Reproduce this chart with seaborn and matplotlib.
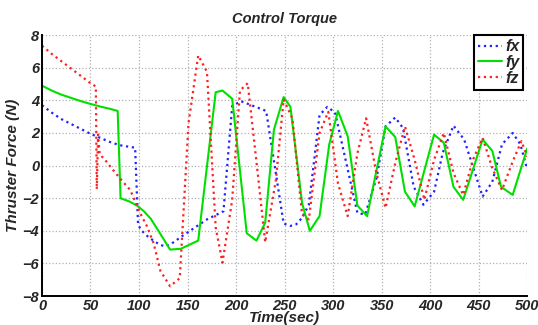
import matplotlib
matplotlib.use("Agg")
import matplotlib.pyplot as plt
import seaborn as sns

# ------------------------------
# data
# ------------------------------
fx_t = [0, 10, 20, 30, 40, 50, 60, 70, 80, 90, 96, 99, 102, 110, 120, 126, 132, 145, 160, 170,
        187, 196, 205, 218, 231, 249, 256, 262, 268, 275, 286, 294, 302, 325, 333, 345, 354, 364,
        372, 383, 393, 404, 413, 424, 435, 454, 464, 474, 485, 493, 500]
fx = [3.7, 3.25, 2.85, 2.55, 2.25, 1.95, 1.7, 1.45, 1.25, 1.15, 1.1, -3.6, -3.95, -4.4, -4.8, -4.95,
      -4.85, -4.3, -3.7, -3.3, -2.8, 3.65, 3.95, 3.65, 3.35, -3.55, -3.7, -3.6, -3.2, -2.4, 3.1, 3.6,
      3.25, -2.9, -3.0, -0.7, 2.4, 2.95, 2.3, -1.3, -2.4, -1.6, 0.8, 2.45, 1.6, -1.9, -1.0, 1.3, 2.0,
      1.3, -0.25]

fy_t = [0, 10, 20, 30, 40, 50, 60, 70, 78, 81, 90, 98, 105, 112, 120, 132, 143, 161, 179, 186,
        196, 211, 221, 230, 239, 249, 256, 268, 276, 286, 296, 305, 315, 325, 335, 354, 364, 374,
        384, 404, 414, 424, 434, 454, 464, 473, 485, 500]
fy = [4.9, 4.6, 4.35, 4.15, 3.95, 3.78, 3.62, 3.48, 3.35, -2.0, -2.2, -2.45, -2.8, -3.25, -4.0,
      -5.15, -5.1, -4.6, 4.5, 4.6, 4.1, -4.15, -4.6, -3.5, 2.2, 4.2, 3.6, -2.3, -4.0, -3.1, 1.3,
      3.35, 1.8, -2.45, -3.1, 2.4, 1.75, -1.6, -2.5, 1.9, 1.4, -1.3, -2.1, 1.6, 0.9, -1.3, -1.8, 1.05]

fz_t = [0, 10, 20, 30, 40, 50, 55.5, 56.5, 57.8, 59.5, 65, 75, 85, 91, 101, 108, 115, 122, 132,
        142, 151, 161, 170, 179, 186, 196, 204, 212, 222, 230, 241, 249, 258, 268, 275, 286, 295,
        305, 315, 325, 334, 344, 354, 364, 374, 384, 394, 404, 414, 424, 434, 444, 454, 464, 474,
        485, 494, 500]
fz = [7.35, 6.85, 6.4, 5.95, 5.5, 5.05, 4.85, -1.45, 1.9, 0.7, 0.35, -0.4, -1.1, -1.5, -2.9, -3.7,
      -4.75, -6.45, -7.4, -6.9, 2.6, 6.75, 5.75, -3.8, -5.95, -2.1, 4.6, 5.05, -0.3, -4.7, -0.9,
      4.05, 2.9, -3.0, -3.3, 2.0, 3.3, -1.1, -3.1, 0.75, 2.9, -0.3, -2.6, 0.15, 2.4, 0.35, -2.1,
      0.35, 2.0, -0.45, -1.8, 0.35, 1.7, -0.15, -1.5, 0.25, 1.5, 0.55]

x_ticks = [0, 50, 100, 150, 200, 250, 300, 350, 400, 450, 500]
y_ticks = [-8, -6, -4, -2, 0, 2, 4, 6, 8]

# ------------------------------
# style
# ------------------------------
sns.set_style("white")
plt.rcParams["font.family"] = ["Liberation Sans", "DejaVu Sans"]

fig = plt.figure(figsize=(5.38, 3.25), dpi=100)
ax = fig.add_axes([0.078, 0.089, 0.902, 0.803])

sns.lineplot(x=fx_t, y=fx, ax=ax, color="#2222ff", linestyle=":", linewidth=1.6, label="fx",
             estimator=None, sort=False)
sns.lineplot(x=fy_t, y=fy, ax=ax, color="#00e000", linestyle="-", linewidth=1.5, label="fy",
             estimator=None, sort=False)
sns.lineplot(x=fz_t, y=fz, ax=ax, color="#ff2020", linestyle=":", linewidth=1.6, label="fz",
             estimator=None, sort=False)

ax.set_xlim(0, 500)
ax.set_ylim(-8, 8)
ax.set_xticks(x_ticks)
ax.set_yticks(y_ticks)
ax.grid(True, color="#b0b0b0", linestyle=":", linewidth=0.9)
ax.tick_params(direction="in", length=4, width=1.2, labelsize=10.5, pad=2)
for lbl in ax.get_xticklabels() + ax.get_yticklabels():
    lbl.set_fontweight("bold")
    lbl.set_fontstyle("italic")

for side in ["top", "right"]:
    ax.spines[side].set_visible(False)
for side in ["left", "bottom"]:
    ax.spines[side].set_color("black")
    ax.spines[side].set_linewidth(1.4)

ax.set_title("Control Torque", fontsize=10.5, fontweight="bold", fontstyle="italic", pad=9)
ax.set_xlabel("Time(sec)", fontsize=11, fontweight="bold", fontstyle="italic", labelpad=-1)
ax.set_ylabel("Thruster Force (N)", fontsize=11, fontweight="bold", fontstyle="italic", labelpad=2)

leg = ax.legend(loc="upper right", handlelength=1.5, handletextpad=0.2,
                borderpad=0.25, labelspacing=0.05, borderaxespad=0, fancybox=False, framealpha=1,
                prop={"weight": "bold", "style": "italic", "size": 11.5},
                bbox_to_anchor=(0.992, 1.0))
leg.get_frame().set_edgecolor("black")
leg.get_frame().set_linewidth(1.5)

fig.savefig("out.png", dpi=100)
plt.close(fig)
